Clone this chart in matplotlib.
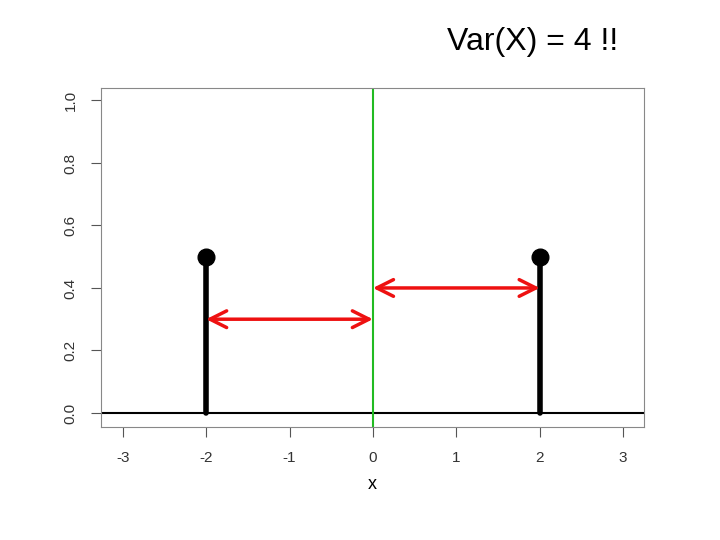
import matplotlib
matplotlib.use('Agg')
import matplotlib.pyplot as plt

# values
xs = [-2, 2]
probs = [0.5, 0.5]
mean = 0
arrows = [(-2, 0, 0.3), (0, 2, 0.4)]  # from, to, height
xticks = [-3, -2, -1, 0, 1, 2, 3]
yticks = [0.0, 0.2, 0.4, 0.6, 0.8, 1.0]

plt.rcParams['font.family'] = ['Liberation Sans', 'DejaVu Sans']
fig = plt.figure(figsize=(7.2, 5.4), dpi=100)
ax = fig.add_axes([101/720, 1-427/540, 543/720, 339/540])
ax.set_xlim(-3.26, 3.25)
ax.set_ylim(-0.045, 1.04)

ax.axhline(0, color='black', lw=1.5)
ax.axvline(mean, color='#22bb22', lw=1.5)
for x, p in zip(xs, probs):
    ax.plot([x, x], [0, p], color='black', lw=4, solid_capstyle='round')
    ax.plot(x, p, 'o', color='black', ms=12)
for a, b, h in arrows:
    ax.annotate('', xy=(a, h), xytext=(b, h),
                arrowprops=dict(arrowstyle='<->', color='#ee1111', lw=2.5,
                                mutation_scale=30, shrinkA=0, shrinkB=0))

ax.set_xticks(xticks)
ax.set_xticklabels([str(t) for t in xticks], fontsize=11)
ax.set_yticks(yticks)
ax.set_yticklabels([f'{t:.1f}' for t in yticks], fontsize=11, rotation=90, va='center')
ax.tick_params(direction='out', length=7, pad=10, color='#555555', labelcolor='#333333')
for s in ax.spines.values():
    s.set_color('#888888')
ax.set_xlabel('x', fontsize=13, labelpad=8)
fig.text(533/720, 1-42/540, 'Var(X) = 4 !!', fontsize=23, ha='center', va='center')

fig.savefig('out.png', dpi=100)
